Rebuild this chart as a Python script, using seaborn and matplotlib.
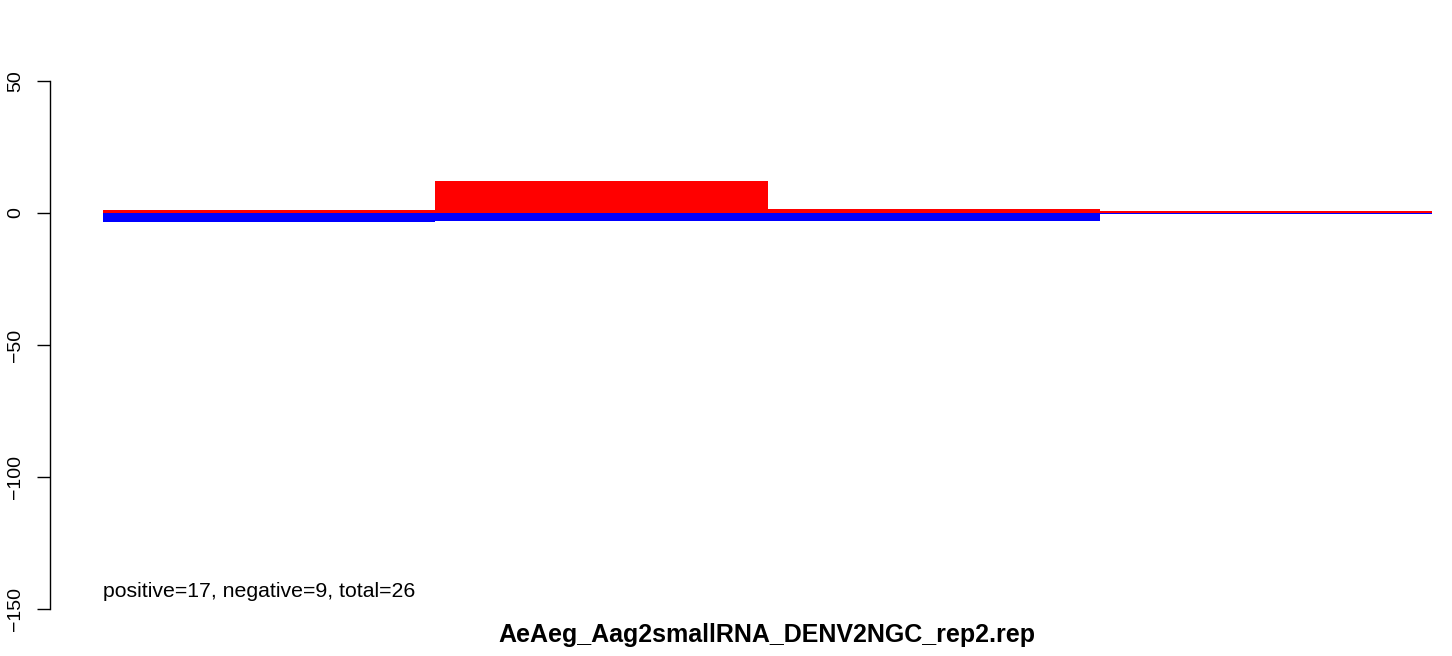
import numpy as np
import pandas as pd
import seaborn as sns
from matplotlib import pyplot as plt

bins = ["1", "2", "3", "4"]
positive = [1.0, 12.0, 1.5, 0.7]
negative = [-3.2, -2.9, -3.0, -0.4]
y_ticks = [50, 0, -50, -100, -150]
title = "AeAeg_Aag2smallRNA_DENV2NGC_rep2.rep"
summary = "positive=17, negative=9, total=26"

sns.set_theme(style="white")
plt.rcParams["font.family"] = ["Liberation Sans", "DejaVu Sans"]
plt.rcParams["text.color"] = "black"

df = pd.DataFrame({"bin": bins, "positive": positive, "negative": negative})

fig = plt.figure(figsize=(14.52, 6.56), dpi=100)
W, H = 1452, 656
ax = fig.add_axes([50 / W, 1 - 630 / H, (1452 - 50) / W, (630 - 60) / H])

sns.barplot(data=df, x="bin", y="positive", color="#ff0000", width=1.0,
            linewidth=0, saturation=1, ax=ax)
sns.barplot(data=df, x="bin", y="negative", color="#0000ff", width=1.0,
            linewidth=0, saturation=1, ax=ax)

ax.set_xlim(-0.5 - 53 / 332.25, 3.5 + 20 / 332.25)
ax.set_ylim(-158, 58)

for side in ["top", "right", "bottom"]:
    ax.spines[side].set_visible(False)
ax.spines["left"].set_bounds(-150, 50)
ax.spines["left"].set_color("black")
ax.spines["left"].set_linewidth(1.0)

ax.set_xticks([])
ax.set_yticks(y_ticks)
ax.set_yticklabels([str(t).replace("-", "\u2212") for t in y_ticks],
                   rotation=90, va="center", fontsize=14, color="black")
ax.tick_params(axis="y", direction="out", length=9.4, width=1.0,
               color="black", left=True, pad=9)
ax.set_xlabel("")
ax.set_ylabel("")

ax.text(-0.5, -143.5, summary, fontsize=15.3, ha="left", va="center",
        color="black")

fig.text(767 / W, 1 - 635 / H, title, fontsize=18, fontweight="bold",
         ha="center", va="center", color="black")

fig.savefig("out.png", dpi=100)
